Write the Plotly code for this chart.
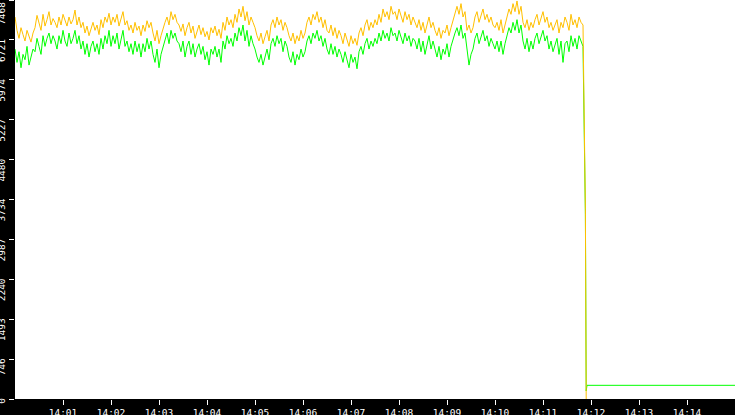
import pandas as pd
import plotly.graph_objects as go

# samples every 2.5 s from 14:00:00 to 14:11:50
start = "2024-01-01 14:00:00"
orange = [
    7150, 6900, 6750, 6950, 6820, 6700, 6900, 6780, 6680, 6850,
    6950, 7180, 7050, 6900, 7200, 6980, 7100, 7250, 7000, 7120,
    7050, 6950, 7150, 7000, 7200, 7080, 6980, 7150, 7020, 7100,
    7280, 7000, 7150, 6950, 7050, 6850, 6980, 6800, 6950, 7050,
    6900, 7000, 6820, 7100, 6950, 7150, 7050, 7220, 7000, 7150,
    7050, 7200, 6980, 7100, 7250, 7000, 7080, 6900, 7000, 6850,
    7050, 6900, 6980, 6800, 7000, 6880, 7080, 6950, 7050, 6850,
    6700, 6900, 6650, 6800, 6950, 7050, 7150, 7000, 7250, 7100,
    7200, 7050, 7000, 6880, 7020, 6800, 6950, 7050, 6850, 6980,
    6750, 6900, 7000, 6820, 6950, 6780, 6880, 6720, 6950, 6850,
    6980, 6800, 6920, 6750, 7050, 6900, 7150, 7000, 7100, 6950,
    7200, 7050, 7300, 7150, 7350, 7080, 7250, 7000, 7150, 7050,
    6950, 6800, 6700, 6850, 6650, 6780, 6900, 6700, 7000, 7100,
    6950, 7150, 7000, 7100, 6900, 7050, 6950, 6800, 6700, 6850,
    6650, 6800, 6700, 6900, 6750, 6850, 7050, 7150, 7000, 7200,
    7100, 7250, 7050, 7150, 6950, 7100, 6900, 6850, 7000, 6800,
    6950, 6750, 6900, 6800, 6650, 6850, 6700, 6600, 6800, 6650,
    6750, 6620, 6850, 6950, 6800, 7000, 7100, 6900, 7050, 6950,
    7100, 7000, 7200, 7050, 7300, 7150, 7250, 7100, 7350, 7200,
    7250, 7100, 7300, 7150, 7050, 7250, 7100, 7200, 7000, 7150,
    7050, 6950, 7100, 6900, 7050, 6850, 7000, 7150, 6950, 7050,
    6900, 6800, 6950, 6750, 6900, 6850, 7000, 6800, 6950, 7100,
    7250, 7350, 7200, 7400, 7150, 7250, 6900, 7000, 6850, 6950,
    7150, 7250, 7050, 7200, 7300, 7100, 7200, 7050, 7150, 7000,
    6950, 7050, 6900, 7100, 6850, 7000, 7150, 7300, 7200, 7400,
    7250, 7450, 7200, 7350, 7050, 6950, 7100, 6900, 7050, 6950,
    7100, 7200, 7000, 7150, 7250, 7050, 7150, 6950, 7050, 6900,
    7000, 7100, 6850, 7050, 6950, 7150, 7050, 6900, 7200, 7000,
    7100, 6950, 7150, 7050, 7000,
]
green = [
    6550, 6300, 6500, 6200, 6450, 6350, 6600, 6250, 6400, 6550,
    6500, 6750, 6600, 6450, 6800, 6600, 6750, 6850, 6650, 6800,
    6700, 6550, 6800, 6650, 6900, 6700, 6600, 6850, 6650, 6750,
    6900, 6650, 6800, 6550, 6700, 6450, 6650, 6400, 6600, 6700,
    6500, 6650, 6450, 6750, 6550, 6800, 6650, 6900, 6600, 6800,
    6650, 6850, 6550, 6750, 6900, 6600, 6700, 6500, 6650, 6450,
    6700, 6500, 6650, 6400, 6650, 6500, 6750, 6550, 6700, 6450,
    6300, 6550, 6200, 6450, 6600, 6700, 6850, 6650, 6900, 6750,
    6850, 6700, 6650, 6500, 6700, 6400, 6600, 6700, 6450, 6650,
    6400, 6550, 6650, 6450, 6600, 6350, 6500, 6250, 6550, 6450,
    6600, 6400, 6550, 6300, 6700, 6550, 6800, 6650, 6750, 6600,
    6850, 6700, 6950, 6800, 7000, 6700, 6900, 6600, 6800, 6650,
    6550, 6400, 6300, 6450, 6250, 6400, 6550, 6350, 6650, 6750,
    6600, 6800, 6650, 6750, 6500, 6700, 6600, 6400, 6300, 6500,
    6250, 6450, 6350, 6550, 6400, 6500, 6700, 6800, 6650, 6850,
    6750, 6900, 6700, 6800, 6600, 6750, 6550, 6450, 6650, 6450,
    6600, 6400, 6550, 6450, 6300, 6500, 6350, 6200, 6450, 6300,
    6400, 6180, 6500, 6600, 6450, 6650, 6750, 6550, 6700, 6600,
    6750, 6650, 6850, 6700, 6900, 6750, 6850, 6700, 6950, 6800,
    6850, 6700, 6900, 6750, 6650, 6850, 6700, 6800, 6600, 6750,
    6700, 6550, 6750, 6500, 6700, 6450, 6650, 6800, 6550, 6700,
    6550, 6400, 6600, 6350, 6550, 6450, 6650, 6400, 6600, 6750,
    6850, 6950, 6800, 7000, 6750, 6850, 6500, 6250, 6450, 6550,
    6750, 6850, 6650, 6800, 6900, 6700, 6800, 6600, 6750, 6650,
    6550, 6700, 6500, 6700, 6450, 6650, 6800, 6950, 6850, 7050,
    6900, 7100, 6850, 7000, 6700, 6550, 6750, 6500, 6700, 6550,
    6750, 6850, 6650, 6800, 6900, 6700, 6800, 6550, 6700, 6500,
    6650, 6750, 6450, 6700, 6300, 6650, 6700, 6500, 6800, 6600,
    6750, 6550, 6800, 6700, 6600,
]

# the drop at the end
tail_orange_time = ["2024-01-01 14:11:53", "2024-01-01 14:11:54"]
tail_orange = [3540, 0]
tail_green_time = ["2024-01-01 14:11:53", "2024-01-01 14:11:54",
                   "2024-01-01 14:11:55", "2024-01-01 14:15:00"]
tail_green = [3450, 150, 256, 256]

y_ticks = [0, 746.8, 1493.6, 2240.4, 2987.2, 3734, 4480.8, 5227.6, 5974.4, 6721.2, 7468]
y_labels = ["0", "746", "1493", "2240", "2987", "3734", "4480", "5227", "5974", "6721", "7468"]
x_labels = ["14:01", "14:02", "14:03", "14:04", "14:05", "14:06", "14:07",
            "14:08", "14:09", "14:10", "14:11", "14:12", "14:13", "14:14"]

t = pd.date_range(start, periods=len(orange), freq="2500ms")
t_o = list(t) + list(pd.to_datetime(tail_orange_time))
t_g = list(t) + list(pd.to_datetime(tail_green_time))

fig = go.Figure()
fig.add_trace(go.Scatter(x=t_g, y=green + tail_green, mode="lines",
                         line=dict(color="#00ff00", width=1)))
fig.add_trace(go.Scatter(x=t_o, y=orange + tail_orange, mode="lines",
                         line=dict(color="#ffc000", width=1)))

# pad labels so they line up at their top end like the original
nb = "\u00a0"
padded = [nb * (4 - len(s)) + s for s in y_labels]
padded[-1] = padded[-1] + nb  # top label pushed down to stay visible

fig.update_layout(
    width=735, height=415,
    margin=dict(l=15, r=0, t=0, b=16),
    paper_bgcolor="black", plot_bgcolor="white",
    showlegend=False,
    font=dict(family="DejaVu Sans Mono", size=9, color="white"),
)
fig.update_xaxes(
    range=["2024-01-01 14:00:00", "2024-01-01 14:15:00"],
    tickvals=["2024-01-01 " + s for s in x_labels], ticktext=x_labels,
    ticks="outside", ticklen=5, tickcolor="white", tickwidth=1,
    showgrid=False, zeroline=False, showline=False, automargin=False,
    ticklabelstandoff=0, ticklabeloverflow="allow",
    tickfont=dict(size=9.5, color="white"),
)
fig.update_yaxes(
    range=[0, 7468], tickvals=y_ticks, ticktext=padded,
    tickangle=-90, ticks="outside", ticklen=5, tickcolor="white", tickwidth=1,
    showgrid=False, zeroline=False, showline=False, automargin=False,
    ticklabelshift=12, ticklabelstandoff=0, ticklabeloverflow="allow",
    tickfont=dict(size=9.5, color="white"),
)

fig.write_html("out.html", config={"displayModeBar": False},
               post_script="document.body.style.margin='0';"
                           "document.body.style.overflow='hidden';")
